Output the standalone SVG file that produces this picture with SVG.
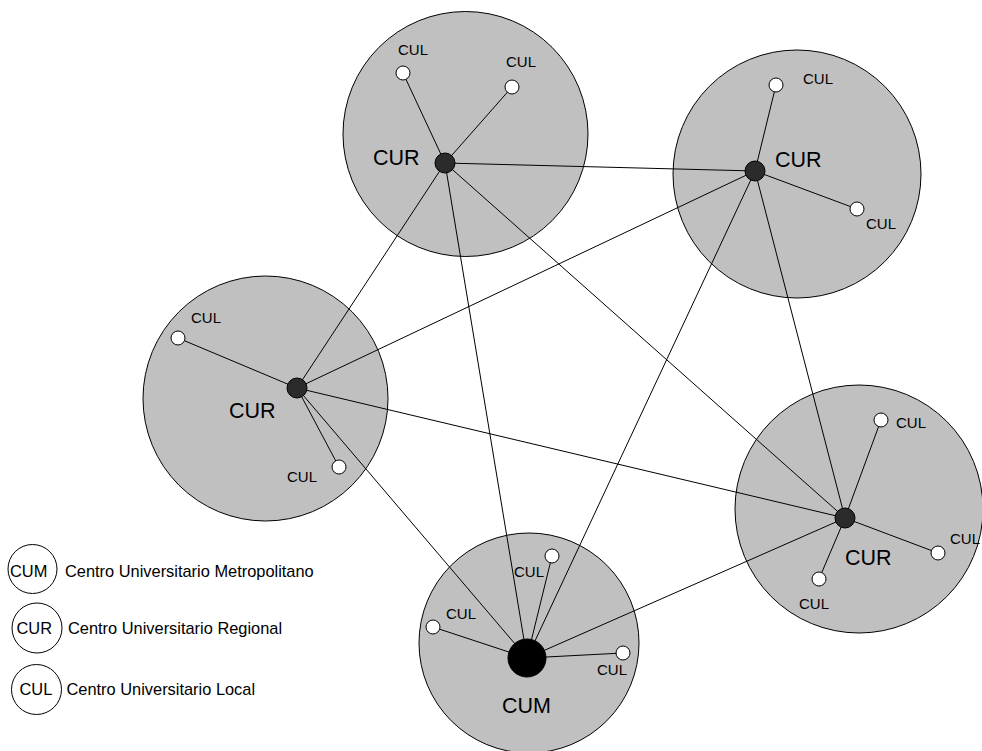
<svg xmlns="http://www.w3.org/2000/svg" width="982" height="751" viewBox="0 0 982 751">
<style>
.area{fill:#c0c0c0;stroke:#000;stroke-width:1}
.edge{stroke:#000;stroke-width:1;fill:none}
.hub{fill:#2b2b2b;stroke:#000;stroke-width:1}
.cum{fill:#000;stroke:#000;stroke-width:1}
.cul{fill:#fff;stroke:#000;stroke-width:1}
.leg{fill:#fff;stroke:#000;stroke-width:1}
text{font-family:"Liberation Sans",Arial,sans-serif;fill:#000}
.s{font-size:15px}
.b{font-size:21.5px}
.l{font-size:16.4px}
</style>
<rect width="982" height="751" fill="#fff"/>
<g id="areas">
<circle id="area-top" class="area" cx="465.5" cy="134" r="122.5"/>
<circle id="area-topright" class="area" cx="797" cy="174" r="124"/>
<circle id="area-left" class="area" cx="265.5" cy="398.5" r="122.5"/>
<circle id="area-right" class="area" cx="859" cy="509" r="124"/>
<circle id="area-cum" class="area" cx="529" cy="643" r="110"/>
</g>
<g id="connectors" class="edge">
<line x1="445" y1="163" x2="755" y2="171"/>
<line x1="445" y1="163" x2="297" y2="388"/>
<line x1="445" y1="163" x2="845" y2="518"/>
<line x1="445" y1="163" x2="527" y2="658"/>
<line x1="755" y1="171" x2="297" y2="388"/>
<line x1="755" y1="171" x2="527" y2="658"/>
<line x1="755" y1="171" x2="845" y2="518"/>
<line x1="297" y1="388" x2="845" y2="518"/>
<line x1="297" y1="388" x2="527" y2="658"/>
<line x1="845" y1="518" x2="527" y2="658"/>
<line x1="445" y1="163" x2="403" y2="73"/>
<line x1="445" y1="163" x2="512" y2="87"/>
<line x1="755" y1="171" x2="776" y2="85"/>
<line x1="755" y1="171" x2="857" y2="209"/>
<line x1="297" y1="388" x2="178" y2="338"/>
<line x1="297" y1="388" x2="339" y2="467"/>
<line x1="845" y1="518" x2="881" y2="420"/>
<line x1="845" y1="518" x2="938" y2="553"/>
<line x1="845" y1="518" x2="819" y2="579"/>
<line x1="527" y1="658" x2="552" y2="556"/>
<line x1="527" y1="658" x2="433" y2="627"/>
<line x1="527" y1="658" x2="623" y2="653"/>
</g>
<g id="cur-top">
<circle class="hub" cx="445" cy="163" r="10"/>
<text class="b" x="373" y="165">CUR</text>
</g>
<g id="cul-top-1"><circle class="cul" cx="403" cy="73" r="7"/><text class="s" x="398" y="55">CUL</text></g>
<g id="cul-top-2"><circle class="cul" cx="512" cy="87" r="7"/><text class="s" x="506" y="67">CUL</text></g>
<g id="cur-topright">
<circle class="hub" cx="755" cy="171" r="10"/>
<text class="b" x="775" y="167">CUR</text>
</g>
<g id="cul-topright-1"><circle class="cul" cx="776" cy="85" r="7"/><text class="s" x="803" y="84">CUL</text></g>
<g id="cul-topright-2"><circle class="cul" cx="857" cy="209" r="7"/><text class="s" x="866" y="229">CUL</text></g>
<g id="cur-left">
<circle class="hub" cx="297" cy="388" r="10"/>
<text class="b" x="229" y="418">CUR</text>
</g>
<g id="cul-left-1"><circle class="cul" cx="178" cy="338" r="7"/><text class="s" x="191" y="323">CUL</text></g>
<g id="cul-left-2"><circle class="cul" cx="339" cy="467" r="7"/><text class="s" x="287" y="482">CUL</text></g>
<g id="cur-right">
<circle class="hub" cx="845" cy="518" r="10"/>
<text class="b" x="845" y="565">CUR</text>
</g>
<g id="cul-right-1"><circle class="cul" cx="881" cy="420" r="7"/><text class="s" x="896" y="428">CUL</text></g>
<g id="cul-right-2"><circle class="cul" cx="938" cy="553" r="7"/><text class="s" x="950" y="544">CUL</text></g>
<g id="cul-right-3"><circle class="cul" cx="819" cy="579" r="7"/><text class="s" x="799" y="609">CUL</text></g>
<g id="cum">
<circle class="cum" cx="527" cy="658" r="19"/>
<text class="b" x="502" y="713">CUM</text>
</g>
<g id="cul-cum-1"><circle class="cul" cx="552" cy="556" r="7"/><text class="s" x="514" y="577">CUL</text></g>
<g id="cul-cum-2"><circle class="cul" cx="433" cy="627" r="7"/><text class="s" x="446" y="619">CUL</text></g>
<g id="cul-cum-3"><circle class="cul" cx="623" cy="653" r="7"/><text class="s" x="597" y="675">CUL</text></g>
<g id="legend-cum">
<circle class="leg" cx="32.5" cy="569" r="24.5"/>
<text class="l" x="10" y="577">CUM</text>
<text class="l" x="65" y="577">Centro Universitario Metropolitano</text>
</g>
<g id="legend-cur">
<circle class="leg" cx="37" cy="628" r="25"/>
<text class="l" x="16.5" y="634">CUR</text>
<text class="l" x="68" y="634">Centro Universitario Regional</text>
</g>
<g id="legend-cul">
<circle class="leg" cx="36.5" cy="689.5" r="25"/>
<text class="l" x="19.5" y="695">CUL</text>
<text class="l" x="66.5" y="695">Centro Universitario Local</text>
</g>
</svg>
